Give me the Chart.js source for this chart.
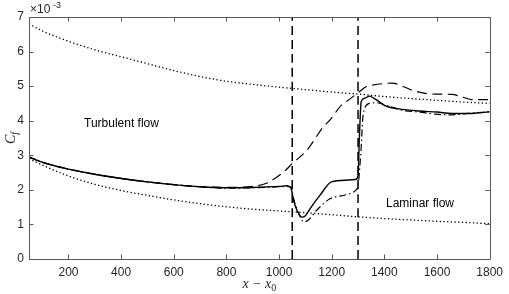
<!DOCTYPE html>
<html>
<head>
<meta charset="utf-8">
<script src="https://cdn.jsdelivr.net/npm/chart.js"></script>
<style>
  html, body { margin: 0; padding: 0; background: #fff; }
  #wrap { width: 509px; height: 294px; position: relative; }
</style>
</head>
<body>
<div id="wrap"><canvas id="cf"></canvas></div>
<script>
// skin friction, values in units of 1e-3
const xTicks = [200, 400, 600, 800, 1000, 1200, 1400, 1600, 1800];
const yTicks = [0, 1, 2, 3, 4, 5, 6, 7];

const solidX = [50, 100, 150, 200, 300, 400, 500, 600, 700, 800, 900, 1000, 1030, 1045, 1055, 1068, 1087, 1100, 1118, 1155, 1199, 1255, 1290, 1300, 1305, 1312, 1325, 1343, 1370, 1406, 1450, 1531, 1600, 1656, 1718, 1760, 1800];
const solidY = [2.95, 2.8, 2.69, 2.6, 2.45, 2.33, 2.23, 2.15, 2.09, 2.06, 2.07, 2.1, 2.12, 2.05, 1.7, 1.41, 1.21, 1.25, 1.46, 1.84, 2.23, 2.28, 2.3, 2.4, 3.5, 4.55, 4.65, 4.71, 4.6, 4.42, 4.35, 4.28, 4.25, 4.21, 4.21, 4.23, 4.26];

const dashDotX = [50, 100, 150, 200, 300, 400, 500, 600, 700, 800, 900, 1000, 1030, 1045, 1055, 1070, 1085, 1095, 1110, 1143, 1193, 1255, 1290, 1300, 1310, 1320, 1343, 1370, 1406, 1468, 1531, 1594, 1656, 1718, 1800];
const dashDotY = [2.95, 2.8, 2.69, 2.6, 2.45, 2.33, 2.23, 2.15, 2.09, 2.05, 2.06, 2.09, 2.1, 2.08, 1.75, 1.4, 1.15, 1.07, 1.12, 1.41, 1.74, 1.86, 1.98, 2.13, 3.0, 4.2, 4.5, 4.52, 4.45, 4.3, 4.25, 4.19, 4.17, 4.21, 4.26];

const dashedX = [50, 100, 150, 200, 300, 400, 500, 600, 700, 800, 900, 954, 1018, 1050, 1105, 1168, 1192, 1243, 1255, 1305, 1330, 1356, 1406, 1430, 1468, 1506, 1556, 1600, 1656, 1700, 1732, 1800];
const dashedY = [2.95, 2.8, 2.69, 2.6, 2.45, 2.33, 2.23, 2.15, 2.09, 2.07, 2.1, 2.2, 2.52, 2.76, 3.14, 3.82, 4.01, 4.5, 4.55, 4.84, 4.98, 5.03, 5.08, 5.09, 5.0, 4.88, 4.79, 4.77, 4.76, 4.68, 4.61, 4.61];

const refX = [50, 100, 200, 300, 400, 500, 600, 700, 800, 900, 1000, 1100, 1200, 1300, 1400, 1500, 1600, 1700, 1800];
const turbY = [6.8, 6.6, 6.3, 6.05, 5.85, 5.65, 5.45, 5.28, 5.14, 5.05, 4.97, 4.9, 4.83, 4.77, 4.7, 4.64, 4.59, 4.54, 4.5];
const lamY = [2.9, 2.72, 2.4, 2.16, 1.98, 1.84, 1.71, 1.6, 1.51, 1.44, 1.39, 1.34, 1.28, 1.22, 1.17, 1.13, 1.09, 1.06, 1.02];

const markerX = [1050, 1300];
const markerSpan = [0, 7];

const pts = (xs, ys) => xs.map((x, i) => ({ x: x, y: ys[i] }));

const ink = '#000';
const textInk = '#262626';
const boxInk = '#5a5a5a';
const sans = '"Liberation Sans", Arial, sans-serif';
const serif = '"Liberation Serif", serif';

function line(data, dash, width) {
    return {
        data: data,
        borderColor: ink,
        borderWidth: width,
        borderDash: dash,
        pointRadius: 0,
        showLine: true,
        fill: false,
        cubicInterpolationMode: 'monotone'
    };
}

// box + inward ticks, MATLAB style, plus the text bits
const boxPlugin = {
    id: 'box',
    afterDraw(chart) {
        const { ctx, chartArea: a, scales } = chart;
        const xs = scales.x, ys = scales.y;
        const tl = 4.5;
        ctx.save();
        ctx.strokeStyle = boxInk;
        ctx.lineWidth = 1;
        ctx.beginPath();
        ctx.rect(Math.round(a.left) + 0.5, Math.round(a.top) + 0.5,
                 Math.round(a.right - a.left), Math.round(a.bottom - a.top));
        xs.ticks.forEach(t => {
            const px = Math.round(xs.getPixelForValue(t.value)) + 0.5;
            ctx.moveTo(px, a.bottom); ctx.lineTo(px, a.bottom - tl);
            ctx.moveTo(px, a.top); ctx.lineTo(px, a.top + tl);
        });
        ys.ticks.forEach(t => {
            const py = Math.round(ys.getPixelForValue(t.value)) + 0.5;
            ctx.moveTo(a.left, py); ctx.lineTo(a.left + tl, py);
            ctx.moveTo(a.right, py); ctx.lineTo(a.right - tl, py);
        });
        ctx.stroke();

        ctx.fillStyle = textInk;
        // exponent
        ctx.font = '12px ' + sans;
        ctx.textBaseline = 'alphabetic';
        ctx.textAlign = 'left';
        ctx.fillText('\u00d710', a.left + 1, 13);
        ctx.font = '9px ' + sans;
        ctx.fillText('-3', a.left + 24, 8);

        // annotations
        ctx.fillStyle = '#000';
        ctx.font = '12px ' + sans;
        ctx.textBaseline = 'middle';
        ctx.fillText('Turbulent flow', 84, 124);
        ctx.fillText('Laminar flow', 386, 203.5);

        // x label: x - x0
        ctx.fillStyle = textInk;
        ctx.textBaseline = 'alphabetic';
        const cx = (a.left + a.right) / 2;
        ctx.font = 'italic 14px ' + serif;
        const p1 = 'x \u2212 x';
        const w1 = ctx.measureText(p1).width;
        ctx.font = '10px ' + serif;
        const w2 = ctx.measureText('0').width;
        const sx = cx - (w1 + w2) / 2;
        ctx.font = 'italic 14px ' + serif;
        ctx.fillText(p1, sx, 288);
        ctx.font = '10px ' + serif;
        ctx.fillText('0', sx + w1, 291);

        // y label: C_f rotated
        ctx.translate(11, (a.top + a.bottom) / 2);
        ctx.rotate(-Math.PI / 2);
        ctx.font = 'italic 14px ' + serif;
        const wc = ctx.measureText('C').width;
        ctx.font = 'italic 10px ' + serif;
        const wf = ctx.measureText('f').width;
        ctx.font = 'italic 14px ' + serif;
        ctx.fillText('C', -(wc + wf) / 2, 4);
        ctx.font = 'italic 10px ' + serif;
        ctx.fillText('f', -(wc + wf) / 2 + wc, 7);
        ctx.restore();
    }
};

new Chart(document.getElementById('cf'), {
    type: 'scatter',
    data: {
        datasets: [
            line(pts(refX, turbY), [1.3, 2.4], 1.3),
            line(pts(refX, lamY), [1.3, 2.4], 1.3),
            line(pts(dashedX, dashedY), [10, 5.5], 1.2),
            line(pts(dashDotX, dashDotY), [7, 3, 1.5, 3], 1.2),
            line(pts(solidX, solidY), [], 1.4),
            line(markerSpan.map(y => ({ x: markerX[0], y: y })), [9, 5], 1.5),
            line(markerSpan.map(y => ({ x: markerX[1], y: y })), [9, 5], 1.5)
        ]
    },
    options: {
        responsive: true,
        maintainAspectRatio: false,
        animation: false,
        layout: { padding: { top: 17, right: 14, left: 0, bottom: 0 } },
        plugins: { legend: { display: false }, tooltip: { enabled: false } },
        scales: {
            x: {
                type: 'linear',
                min: 50,
                max: 1800,
                afterBuildTicks: s => { s.ticks = xTicks.map(v => ({ value: v })); },
                afterFit: s => { s.height = 35; },
                grid: { display: false, drawTicks: false },
                border: { display: false },
                ticks: {
                    padding: 6,
                    color: textInk,
                    font: { family: sans, size: 12 },
                    maxRotation: 0,
                    callback: v => String(v)
                }
            },
            y: {
                type: 'linear',
                min: 0,
                max: 7,
                afterBuildTicks: s => { s.ticks = yTicks.map(v => ({ value: v })); },
                afterFit: s => { s.width = 29; },
                grid: { display: false, drawTicks: false },
                border: { display: false },
                ticks: {
                    padding: 5,
                    color: textInk,
                    font: { family: sans, size: 12 },
                    callback: v => String(v)
                }
            }
        }
    },
    plugins: [boxPlugin]
});
</script>
</body>
</html>
